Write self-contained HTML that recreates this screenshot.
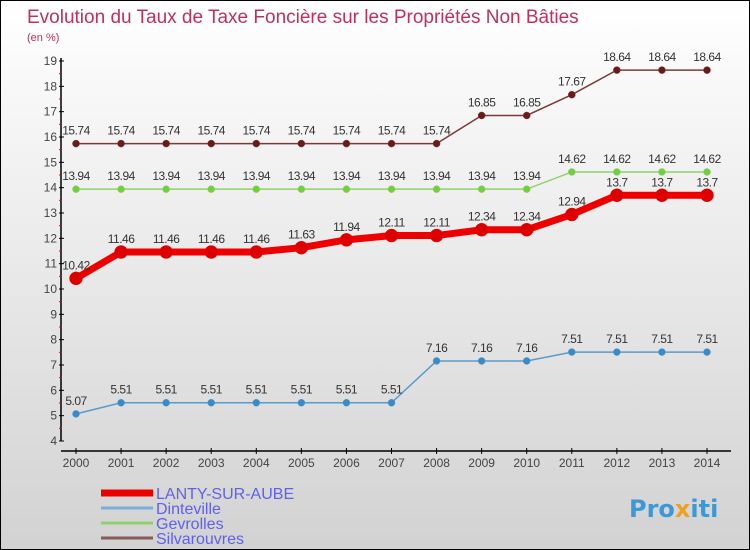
<!DOCTYPE html>
<html><head><meta charset="utf-8"><style>
body{margin:0}
#c{width:750px;height:550px;position:relative;background:linear-gradient(#fff,#d2d2d2);border:1px solid #000;box-sizing:border-box;overflow:hidden;font-family:"DejaVu Sans","Liberation Sans",sans-serif}
</style></head><body>
<div id="c">
<svg id="s" width="750" height="550" style="position:absolute;left:0;top:0">
<text x="26" y="22" font-size="19" fill="#c0305a" font-family="Liberation Sans">Evolution du Taux de Taxe Foncière sur les Propriétés Non Bâties</text>
<text x="26" y="40" font-size="11" fill="#c0305a" font-family="Liberation Sans">(en %)</text>
<text x="628" y="516" font-size="24" font-weight="bold" fill="#3a9ad8">Pro<tspan fill="#f0a020">x</tspan>iti</text>
</svg>
</div>
<script>
const years=[2000,2001,2002,2003,2004,2005,2006,2007,2008,2009,2010,2011,2012,2013,2014];
const lanty=[10.42,11.46,11.46,11.46,11.46,11.63,11.94,12.11,12.11,12.34,12.34,12.94,13.7,13.7,13.7];
const dinteville=[5.07,5.51,5.51,5.51,5.51,5.51,5.51,5.51,7.16,7.16,7.16,7.51,7.51,7.51,7.51];
const gevrolles=[13.94,13.94,13.94,13.94,13.94,13.94,13.94,13.94,13.94,13.94,13.94,14.62,14.62,14.62,14.62];
const silva=[15.74,15.74,15.74,15.74,15.74,15.74,15.74,15.74,15.74,16.85,16.85,17.67,18.64,18.64,18.64];
const yTicks=[4,5,6,7,8,9,10,11,12,13,14,15,16,17,18,19];
const NS="http://www.w3.org/2000/svg",svg=document.getElementById('s');
const X=i=>75+i*(706-75)/14, Y=v=>440-(v-4)*(380/15);
function mk(t,a,p){const e=document.createElementNS(NS,t);for(const k in a)e.setAttribute(k,a[k]);(p||svg).appendChild(e);return e;}
let ya=mk('line',{x1:60,y1:57,x2:60,y2:440,stroke:'#000','stroke-width':1.5});


let xa=mk('line',{x1:60,y1:450,x2:730,y2:450,stroke:'#000','stroke-width':1.5});


yTicks.forEach(v=>{
 mk('line',{x1:58,x2:63,y1:Y(v),y2:Y(v),stroke:'#000'});
 if(v<19)mk('line',{x1:58,x2:61,y1:Y(v+0.5),y2:Y(v+0.5),stroke:'#e00'});
 const t=mk('text',{x:56,y:Y(v)+4,'text-anchor':'end','font-size':12,fill:'#444','font-family':'Liberation Sans'});t.textContent=v;
 
 
});
years.forEach((yr,i)=>{
 mk('line',{x1:X(i),x2:X(i),y1:447,y2:453,stroke:'#000'});
 const t=mk('text',{x:X(i),y:466,'text-anchor':'middle','font-size':12,fill:'#444','font-family':'Liberation Sans'});t.textContent=yr;
 
 
});
function series(d,col,dot,w,r,name){
 const g=mk('g',{});
 
 
 mk('polyline',{points:d.map((v,i)=>X(i)+','+Y(v)).join(' '),fill:'none',stroke:col,'stroke-width':w},g);
 d.forEach((v,i)=>{
  const c=mk('circle',{cx:X(i),cy:Y(v),r:r,fill:dot,stroke:col,'stroke-width':0.5},g);
  
  
  const t=mk('text',{x:X(i),y:Y(v)-9,'text-anchor':'middle','font-size':12,fill:'#333','font-family':'Liberation Sans','letter-spacing':'-0.5'},g);t.textContent=v;
  
  
 });
}
series(silva,'#7a3a3a','#6a1a1a',1.5,3.5,'silvarouvres-series');
series(gevrolles,'#90d070','#70d040',1.5,3.5,'gevrolles-series');
series(dinteville,'#5a9ac8','#3a8ac8',1.5,3.5,'dinteville-series');
series(lanty,'#ee0000','#dd0000',7,6.5,'lanty-sur-aube-series');
const legend=[['LANTY-SUR-AUBE','#ee0000',7],['Dinteville','#7ab0d8',3],['Gevrolles','#90d070',3],['Silvarouvres','#8a5a5a',3]];
legend.forEach((l,i)=>{
 const yy=492+i*15;
 const ln=mk('line',{x1:100,x2:152,y1:yy,y2:yy,stroke:l[1],'stroke-width':l[2]});
 
 
 const t=mk('text',{x:155,y:yy+6,'font-size':16,fill:'#6060ee','font-family':'Liberation Sans'});t.textContent=l[0];
 
 
});
</script>
</body></html>
